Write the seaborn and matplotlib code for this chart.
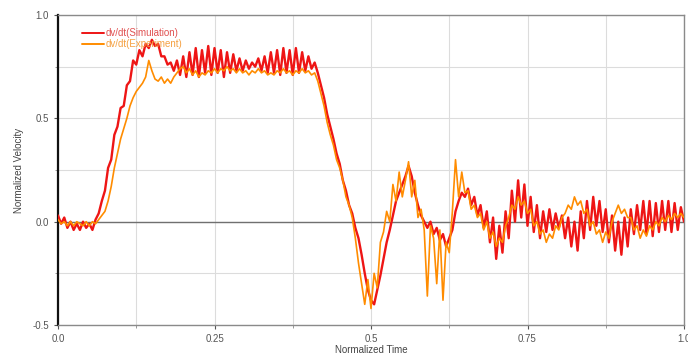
import numpy as np
import pandas as pd
import matplotlib
matplotlib.use("Agg")
import matplotlib.pyplot as plt
import seaborn as sns
from matplotlib.ticker import MultipleLocator, FixedLocator
from matplotlib.lines import Line2D

# ---- data ----
time = [round(i * 0.005, 3) for i in range(201)]

simulation = [
    0.03, -0.01, 0.02, -0.03, 0.00, -0.04, -0.01, -0.04, 0.00, -0.03, -0.01, -0.04, 0.01,
    0.04, 0.10, 0.15, 0.26, 0.30, 0.42, 0.46, 0.55, 0.56, 0.66, 0.68, 0.78, 0.76, 0.83,
    0.80, 0.86, 0.84, 0.88, 0.85, 0.86, 0.80, 0.80, 0.76, 0.77, 0.73, 0.78, 0.71,
    0.80, 0.70, 0.82, 0.71, 0.84, 0.70, 0.83, 0.72, 0.85, 0.71, 0.84, 0.72, 0.83, 0.70,
    0.82, 0.72, 0.81, 0.73, 0.79, 0.73, 0.78, 0.74, 0.77, 0.75, 0.79, 0.73, 0.80, 0.72,
    0.82, 0.72, 0.83, 0.71, 0.84, 0.72, 0.83, 0.71, 0.84, 0.72, 0.82, 0.73, 0.80, 0.74,
    0.77, 0.72, 0.66, 0.60, 0.52, 0.46, 0.40, 0.33, 0.28, 0.20, 0.15, 0.08, 0.04, -0.03,
    -0.08, -0.16, -0.25, -0.33, -0.38, -0.40, -0.33, -0.26, -0.18, -0.10, -0.04, 0.03,
    0.10, 0.14, 0.18, 0.22, 0.27, 0.22, 0.14, 0.08, 0.03, 0.00, -0.03, 0.00, -0.06,
    -0.03, -0.09, -0.06, -0.12, -0.08, -0.04, 0.05, 0.10, 0.14, 0.12, 0.16, 0.08, 0.12,
    0.03, 0.08, -0.03, 0.05, -0.10, 0.02, -0.18, -0.02, -0.15, 0.05, -0.08, 0.15, 0.00,
    0.20, 0.02, 0.18, -0.02, 0.12, -0.05, 0.08, -0.08, 0.05, -0.05, 0.06, -0.04, 0.04,
    -0.03, 0.03, -0.08, 0.02, -0.12, 0.00, -0.14, 0.05, -0.08, 0.10, -0.04, 0.12, -0.02,
    0.10, -0.05, 0.06, -0.10, 0.03, -0.14, 0.00, -0.16, 0.02, -0.12, 0.06, -0.06, 0.08,
    -0.04, 0.10, -0.06, 0.10, -0.07, 0.09, -0.05, 0.10, -0.04, 0.10, -0.05, 0.09, -0.04,
    0.07, 0.00,
]

experiment = [
    0.01, -0.01, 0.00, -0.02, 0.00, -0.02, 0.00, -0.01, -0.02, 0.00, -0.02, 0.00, -0.01,
    0.01, 0.03, 0.05, 0.10, 0.17, 0.26, 0.33, 0.40, 0.45, 0.50, 0.56, 0.60, 0.63, 0.65,
    0.67, 0.70, 0.78, 0.73, 0.69, 0.68, 0.70, 0.67, 0.69, 0.67, 0.70, 0.72, 0.74,
    0.75, 0.72, 0.74, 0.71, 0.73, 0.70, 0.72, 0.71, 0.73, 0.72, 0.74, 0.72, 0.74, 0.73,
    0.75, 0.73, 0.74, 0.72, 0.74, 0.72, 0.73, 0.71, 0.73, 0.72, 0.74, 0.72, 0.73, 0.71,
    0.72, 0.71, 0.73, 0.72, 0.74, 0.72, 0.73, 0.71, 0.73, 0.72, 0.74, 0.72, 0.73, 0.71,
    0.72, 0.68, 0.62, 0.56, 0.48, 0.42, 0.37, 0.30, 0.26, 0.20, 0.12, 0.08, 0.02, -0.08,
    -0.20, -0.30, -0.40, -0.28, -0.42, -0.25, -0.32, -0.10, -0.05, 0.05, 0.00, 0.18,
    0.10, 0.24, 0.12, 0.20, 0.29, 0.12, 0.20, 0.02, 0.06, -0.04, -0.36, -0.02, -0.08,
    -0.30, -0.04, -0.38, -0.10, -0.15, 0.05, 0.30, 0.12, 0.24, 0.14, 0.15, 0.06, 0.08,
    0.02, 0.04, -0.04, 0.00, -0.08, -0.05, -0.12, -0.08, -0.10, -0.02, 0.02, 0.08, 0.06,
    0.12, 0.08, 0.10, 0.04, 0.06, -0.02, 0.00, -0.06, -0.04, -0.10, -0.06, -0.08, -0.02,
    -0.04, 0.02, 0.04, 0.08, 0.06, 0.12, 0.08, 0.10, 0.04, 0.06, -0.02, 0.00, -0.06,
    -0.04, -0.10, -0.05, -0.08, 0.00, 0.04, 0.08, 0.04, 0.06, 0.02, 0.02, -0.04, -0.02,
    -0.08, -0.04, -0.07, -0.02, -0.04, 0.00, -0.02, 0.02, 0.00, 0.03, 0.01, 0.04, 0.02,
    0.04, 0.02,
]

series_names = ["dv/dt(Simulation)", "dv/dt(Experiment)"]
series_colors = ["#ee1515", "#ff8c00"]
x_ticks = [0.0, 0.25, 0.5, 0.75, 1.0]
x_tick_labels = ["0.0", "0.25", "0.5", "0.75", "1.0"]
y_ticks = [-0.5, 0.0, 0.5, 1.0]
y_tick_labels = ["-0.5", "0.0", "0.5", "1.0"]

df = pd.DataFrame({
    "t": time * 2,
    "v": simulation + experiment,
    "series": [series_names[0]] * len(time) + [series_names[1]] * len(time),
})

sns.set_style("white")
plt.rcParams["font.family"] = ["Liberation Sans", "DejaVu Sans"]

fig = plt.figure(figsize=(6.88, 3.58), dpi=100)
ax = fig.add_axes([58 / 688, 33 / 358, 626 / 688, 310 / 358])

ax.set_xlim(0, 1.0)
ax.set_ylim(-0.5, 1.0)
ax.xaxis.set_major_locator(FixedLocator(x_ticks))
ax.yaxis.set_major_locator(FixedLocator(y_ticks))
ax.xaxis.set_minor_locator(MultipleLocator(0.125))
ax.yaxis.set_minor_locator(MultipleLocator(0.25))
ax.grid(True, which="both", color="#dcdcdc", linewidth=0.8)
ax.set_axisbelow(True)
ax.axhline(0, color="#707070", linewidth=1.0, zorder=1.5)

sns.lineplot(data=df, x="t", y="v", hue="series", palette=series_colors,
             hue_order=series_names, estimator=None, sort=False,
             ax=ax, legend=False)
for ln in ax.get_lines()[1:]:
    if ln.get_color() == series_colors[0]:
        ln.set_linewidth(1.7)
        ln.set_zorder(3)
    elif ln.get_color() == series_colors[1]:
        ln.set_linewidth(1.2)
        ln.set_zorder(4)

ax.set_xticklabels(x_tick_labels)
ax.set_yticklabels(y_tick_labels)
ax.tick_params(axis="both", which="major", labelsize=7, labelcolor="#555555",
               length=3, width=0.8, color="#555555", direction="out",
               bottom=True, left=True)
ax.tick_params(axis="both", which="minor", length=2, color="#888888",
               bottom=True, left=True)
ax.set_xlabel("Normalized Time", fontsize=7, color="#444444", labelpad=1)
ax.set_ylabel("Normalized Velocity", fontsize=7, color="#444444", labelpad=6)

for side in ["top", "right", "bottom"]:
    ax.spines[side].set_color("#8a8a8a")
    ax.spines[side].set_linewidth(1.0)
    ax.spines[side].set_visible(True)
ax.spines["left"].set_color("#111111")
ax.spines["left"].set_linewidth(1.6)
ax.spines["left"].set_visible(True)

handles = [Line2D([], [], color=c, linewidth=1.4) for c in series_colors]
leg = ax.legend(handles, series_names, loc="upper left", frameon=False,
                fontsize=7, handlelength=2.2, handletextpad=0.2,
                labelspacing=0.1, bbox_to_anchor=(0.025, 0.985))
for txt, c in zip(leg.get_texts(), ["#e05050", "#f5a040"]):
    txt.set_color(c)

fig.savefig("out.png", dpi=100)
